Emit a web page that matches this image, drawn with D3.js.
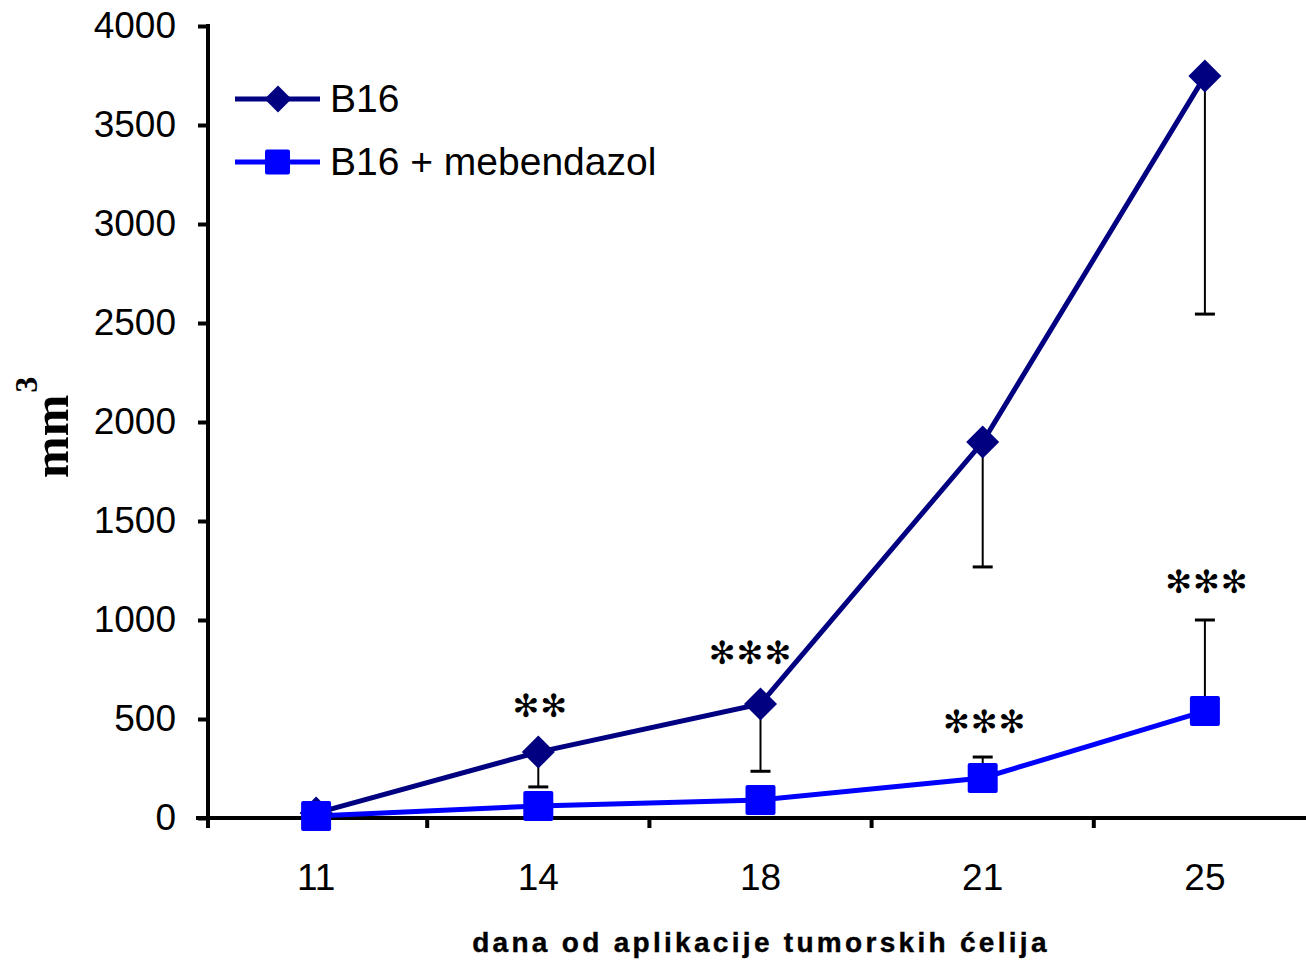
<!DOCTYPE html>
<html>
<head>
<meta charset="utf-8">
<script src="https://cdn.jsdelivr.net/npm/d3@7"></script>
<style>
  html, body { margin: 0; padding: 0; background: #fff; }
  svg { display: block; }
</style>
</head>
<body>
<svg id="chart" width="1306" height="960"></svg>
<script>
// Tumour volume (mm^3) by day after tumour cell inoculation
const days = ["11", "14", "18", "21", "25"];
const b16 = [25, 333, 576, 1899, 3747];
const b16Err = [0, 176, 340, 631, 1202];        // drawn downward (mean - SD)
const meb = [10, 61, 91, 202, 540];
const mebErr = [0, 0, 0, 106, 460];             // drawn upward (mean + SD)
const stars = ["", "✻✻", "✻✻✻", "✻✻✻", "✻✻✻"];
const starValues = [0, 570, 840, 490, 1195];    // vertical placement of significance marks
const yTicks = [0, 500, 1000, 1500, 2000, 2500, 3000, 3500, 4000];
const seriesNames = ["B16", "B16 + mebendazol"];
const seriesColors = ["#000080", "#0000FF"];

const svg = d3.select("#chart");

const x = d3.scaleBand().domain(days).range([205, 1316]);
const y = d3.scaleLinear().domain([0, 4000]).range([818, 26]);
const cx = d => x(d) + x.bandwidth() / 2;

// Y axis
const yAxis = svg.append("g").attr("transform", "translate(208,0)")
  .call(d3.axisLeft(y).tickValues(yTicks).tickSize(10).tickPadding(22).tickFormat(d3.format("d")));
yAxis.select(".domain").attr("stroke", "#000").attr("stroke-width", 4)
  .attr("d", `M0,${y(4000) - 2}V${y(0) + 4}`);
yAxis.selectAll(".tick line").attr("stroke", "#000").attr("stroke-width", 4);
yAxis.selectAll(".tick text")
  .attr("font-family", "Liberation Sans, Arial, sans-serif")
  .attr("font-size", 37).attr("fill", "#000");

// X axis: ticks sit on the band boundaries, labels at band centres
const xAxis = svg.append("g").attr("transform", `translate(0,${y(0)})`);
xAxis.append("line").attr("x1", 196).attr("x2", 1316).attr("y1", 0).attr("y2", 0)
  .attr("stroke", "#000").attr("stroke-width", 4);
const boundaries = days.map(d => x(d)).concat([x(days[days.length - 1]) + x.bandwidth()]);
boundaries[0] = 208;
xAxis.selectAll("line.tk").data(boundaries).join("line").attr("class", "tk")
  .attr("x1", d => d).attr("x2", d => d).attr("y1", 0).attr("y2", 10)
  .attr("stroke", "#000").attr("stroke-width", 4);
xAxis.selectAll("text").data(days).join("text")
  .attr("x", d => cx(d)).attr("y", 72)
  .attr("text-anchor", "middle")
  .attr("font-family", "Liberation Sans, Arial, sans-serif")
  .attr("font-size", 37).attr("fill", "#000")
  .text(d => d);

// Axis titles
svg.append("text")
  .attr("x", 761).attr("y", 952)
  .attr("text-anchor", "middle")
  .attr("font-family", "Liberation Sans, Arial, sans-serif")
  .attr("font-weight", "bold").attr("font-size", 28)
  .attr("letter-spacing", "3.3px")
  .attr("stroke", "#000").attr("stroke-width", 0.4)
  .text("dana od aplikacije tumorskih ćelija");

const yTitle = svg.append("text")
  .attr("transform", "translate(68,478) rotate(-90)")
  .attr("font-family", "Liberation Serif, Times New Roman, serif")
  .attr("font-weight", "bold").attr("font-size", 50);
yTitle.append("tspan").text("mm");
yTitle.append("tspan").attr("dy", -31).attr("dx", 2).attr("font-size", 32).text("3");

// Error bars (one-sided)
const cap = 10;
function errBar(g, xs, y1, y2) {
  g.append("line").attr("x1", xs).attr("x2", xs).attr("y1", y1).attr("y2", y2)
    .attr("stroke", "#000").attr("stroke-width", 2);
  g.append("line").attr("x1", xs - cap).attr("x2", xs + cap).attr("y1", y2).attr("y2", y2)
    .attr("stroke", "#000").attr("stroke-width", 3);
}
const eb = svg.append("g");
days.forEach((d, i) => {
  if (b16Err[i] > 0) errBar(eb, cx(d), y(b16[i]), y(b16[i] - b16Err[i]));
  if (mebErr[i] > 0) errBar(eb, cx(d), y(meb[i]), y(meb[i] + mebErr[i]));
});

// Lines
const line = d3.line().x((v, i) => cx(days[i])).y(v => y(v));
svg.append("path").datum(meb).attr("d", line)
  .attr("fill", "none").attr("stroke", seriesColors[1]).attr("stroke-width", 5);
svg.append("path").datum(b16).attr("d", line)
  .attr("fill", "none").attr("stroke", seriesColors[0]).attr("stroke-width", 5);

// Markers
const diamond = (px, py, r) => `M${px},${py - r}L${px + r},${py}L${px},${py + r}L${px - r},${py}Z`;
svg.append("g").selectAll("path").data(b16).join("path")
  .attr("d", (v, i) => diamond(cx(days[i]), y(v), 16.5))
  .attr("fill", seriesColors[0]);
svg.append("g").selectAll("rect").data(meb).join("rect")
  .attr("x", (v, i) => cx(days[i]) - 15).attr("y", v => y(v) - 15)
  .attr("width", 30).attr("height", 30).attr("rx", 2)
  .attr("fill", seriesColors[1]);

// Significance marks
svg.append("g").selectAll("text").data(stars).join("text")
  .attr("x", (s, i) => cx(days[i]) + (i === 2 ? -10 : 2))
  .attr("y", (s, i) => y(starValues[i]) + 12)
  .attr("text-anchor", "middle")
  .attr("font-family", "DejaVu Sans, sans-serif")
  .attr("font-size", 32)
  .attr("letter-spacing", "1px")
  .text(s => s);

// Legend
const legend = svg.append("g");
seriesNames.forEach((name, i) => {
  const ly = 99 + i * 63;
  legend.append("line").attr("x1", 235).attr("x2", 320).attr("y1", ly).attr("y2", ly)
    .attr("stroke", seriesColors[i]).attr("stroke-width", 5);
  if (i === 0) {
    legend.append("path").attr("d", diamond(278, ly, 13.5)).attr("fill", seriesColors[i]);
  } else {
    legend.append("rect").attr("x", 265).attr("y", ly - 12.5).attr("width", 25).attr("height", 25)
      .attr("rx", 2).attr("fill", seriesColors[i]);
  }
  legend.append("text").attr("x", 330).attr("y", ly + 13)
    .attr("font-family", "Liberation Sans, Arial, sans-serif")
    .attr("font-size", 39).text(name);
});
</script>
</body>
</html>
